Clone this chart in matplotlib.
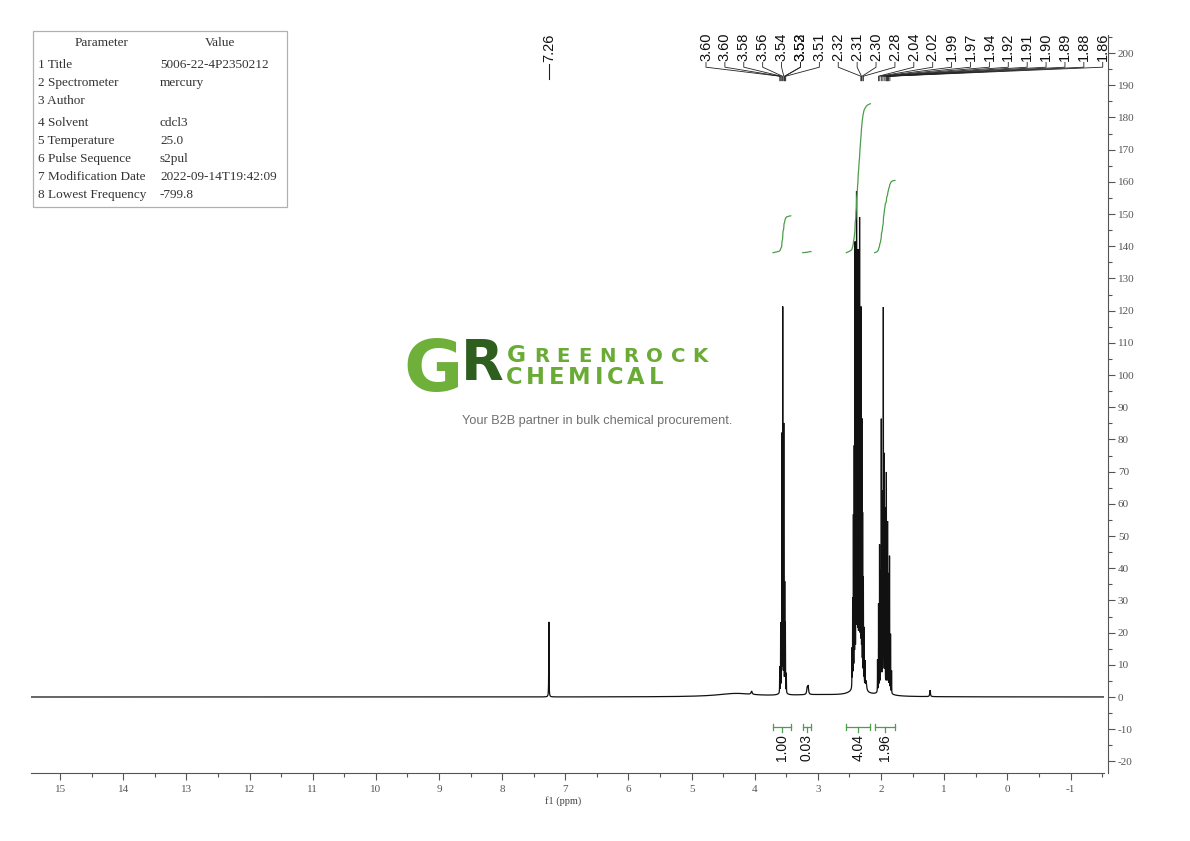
import numpy as np
import matplotlib
matplotlib.use("Agg")
import matplotlib.pyplot as plt
from matplotlib.ticker import MultipleLocator
from matplotlib.patches import Rectangle

plt.rcParams['axes.unicode_minus'] = False

# ------------------------------------------------------------------ data
# spectrum lines: chemical shift (ppm), height, half width (ppm)
peak_ppm = [7.26,
            3.605, 3.590, 3.572, 3.557, 3.540, 3.525, 3.515, 3.500,
            3.170, 3.155,
            4.050,
            2.460, 2.450, 2.438, 2.425, 2.412, 2.398, 2.388, 2.376, 2.364, 2.352, 2.340,
            2.328, 2.316, 2.304, 2.292, 2.280, 2.268, 2.255,
            2.238,
            2.056, 2.040, 2.024, 2.008, 1.996, 1.980, 1.964, 1.951, 1.937, 1.916, 1.897,
            1.882, 1.866, 1.850, 1.834,
            1.224]
peak_height = [23.3,
               8, 21, 79, 118, 82, 33, 21, 6,
               2.0, 2.5,
               1.0,
               12, 27, 52, 72, 135, 110, 148, 124, 130, 108, 141,
               100, 114, 80, 52, 33, 18, 8,
               3.0,
               10, 27, 45, 36, 83, 60, 117, 71, 55, 67, 52,
               36, 42, 18, 7,
               2.0]
peak_hwhm = [0.0025,
             0.0015, 0.0015, 0.0015, 0.0015, 0.0015, 0.0015, 0.0015, 0.0015,
             0.008, 0.008,
             0.010,
             0.0015, 0.0015, 0.0015, 0.0015, 0.0015, 0.0015, 0.0015, 0.0015, 0.0015, 0.0015, 0.0015,
             0.0015, 0.0015, 0.0015, 0.0015, 0.0015, 0.0015, 0.0015,
             0.010,
             0.0015, 0.0015, 0.0015, 0.0015, 0.0015, 0.0015, 0.0015, 0.0015, 0.0015, 0.0015, 0.0015,
             0.0015, 0.0015, 0.0015, 0.0015,
             0.006]
# broad baseline humps: centre, height, half width
hump_ppm = [4.30, 3.00, 2.36, 1.95, 3.555]
hump_height = [1.0, 0.6, 3.2, 1.8, 1.2]
hump_hwhm = [0.35, 0.60, 0.10, 0.08, 0.04]

# peak labels along the top
peak_labels = ["3.60", "3.60", "3.58", "3.56", "3.54", "3.53", "3.52", "3.51",
               "2.32", "2.31", "2.30", "2.28",
               "2.04", "2.02", "1.99", "1.97", "1.94", "1.92", "1.91", "1.90", "1.89", "1.88", "1.86"]
solvent_label = "7.26"

# integrals
integral_regions = [(3.71, 3.43), (3.24, 3.11), (2.55, 2.17), (2.10, 1.78)]
integral_values = [1.00, 0.03, 4.04, 1.96]

# parameter table
param_names = ["1 Title", "2 Spectrometer", "3 Author", "4 Solvent", "5 Temperature",
               "6 Pulse Sequence", "7 Modification Date", "8 Lowest Frequency"]
param_values = ["5006-22-4P2350212", "mercury", "", "cdcl3", "25.0",
                "s2pul", "2022-09-14T19:42:09", "-799.8"]

x_ticks = list(range(-1, 16))
y_ticks = list(range(-20, 201, 10))

# ------------------------------------------------------------------ figure
W, H = 1190, 841
fig = plt.figure(figsize=(W / 100, H / 100), dpi=100)
fig.patch.set_facecolor("white")


def fx(px):
    return px / W


def fy(py):
    return 1 - py / H


ax = fig.add_axes([fx(31), fy(773), (1104 - 31) / W, (773 - 35) / H])
XMAX, XMIN = 15.46, -1.53
YMIN, YMAX = -23.6, 205.6
ax.set_xlim(XMAX, XMIN)
ax.set_ylim(YMIN, YMAX)

x = np.linspace(XMAX, XMIN, 120000)
y = np.zeros_like(x)
for p, h, w in zip(peak_ppm, peak_height, peak_hwhm):
    y += h / (1 + ((x - p) / w) ** 2)
for p, h, w in zip(hump_ppm, hump_height, hump_hwhm):
    y += h / (1 + ((x - p) / w) ** 2)

ax.plot(x, y, color="#111111", lw=0.9, solid_joinstyle="miter")

# integrals
green = "#4c9e4c"
INT_BASE = 138.0
INT_SCALE = 11.45
for (a, b), v in zip(integral_regions, integral_values):
    m = (x <= a) & (x >= b)
    s = np.cumsum(y[m])
    s = s / s[-1]
    ax.plot(x[m], INT_BASE + v * INT_SCALE * s, color=green, lw=0.9)
    # bracket below baseline
    yb = -9.3
    ax.plot([a, b], [yb, yb], color=green, lw=0.9)
    ax.plot([a, a], [yb - 1.0, yb + 1.0], color=green, lw=0.9)
    ax.plot([b, b], [yb - 1.0, yb + 1.0], color=green, lw=0.9)
    c = (a + b) / 2
    ax.plot([c, c], [yb, yb - 1.6], color=green, lw=0.9)
    ax.text(c, yb - 2.2, f"{v:.2f}", rotation=90, ha="center", va="top",
            fontsize=10, family="Liberation Sans", color="#111111")

# peak labels
slot_first, slot_last = 4.772, -1.51
nslots = len(peak_labels) - 1
slots = np.linspace(slot_first, slot_last, nslots)
slot_idx = list(range(len(peak_labels)))
slot_idx = [i if i <= 5 else i - 1 for i in slot_idx]
Y_TXT, Y_A, Y_B, Y_C = 197.4, 195.6, 192.8, 191.4
for lab, si in zip(peak_labels, slot_idx):
    lx = slots[si]
    px = float(lab)
    ax.text(lx, Y_TXT, lab, rotation=90, ha="center", va="bottom", fontsize=10.5,
            family="Liberation Sans", color="#111111", clip_on=False)
    ax.plot([lx, lx, px, px], [Y_TXT - 0.3, Y_A, Y_B, Y_C], color="#222222",
            lw=0.6, clip_on=False)

sv = float(solvent_label)
ax.text(sv, 197.2, solvent_label, rotation=90, ha="center", va="bottom", fontsize=10.5,
        family="Liberation Sans", color="#111111", clip_on=False)
ax.plot([sv, sv], [196.6, 192.0], color="#222222", lw=0.8, clip_on=False)

# axes styling
for s in ["top", "left"]:
    ax.spines[s].set_visible(False)
ax.spines["right"].set_position(("outward", 3))
ax.spines["right"].set_color("#555555")
ax.spines["bottom"].set_color("#555555")
ax.yaxis.tick_right()
ax.set_xticks(x_ticks)
ax.set_xticklabels([str(t) for t in x_ticks])
ax.xaxis.set_minor_locator(MultipleLocator(0.5))
ax.set_yticks(y_ticks)
ax.set_yticklabels([str(t) for t in y_ticks])
ax.yaxis.set_minor_locator(MultipleLocator(5))
ax.tick_params(axis="both", which="major", length=5, width=0.8, color="#555555",
               labelcolor="#555555", labelsize=8)
ax.tick_params(axis="both", which="minor", length=3, width=0.8, color="#555555")
ax.tick_params(axis="x", pad=4)
ax.tick_params(axis="y", pad=2)
for lbl in ax.get_xticklabels() + ax.get_yticklabels():
    lbl.set_family("Liberation Serif")
ax.set_xlabel("f1 (ppm)", fontsize=7.5, family="Liberation Serif", color="#444444", labelpad=1)
ax.xaxis.set_label_coords((563 - 31) / (1104 - 31), -0.031)

# parameter table
fig.patches.append(Rectangle((fx(33), fy(207)), (287 - 33) / W, (207 - 31) / H,
                             transform=fig.transFigure, fill=False,
                             edgecolor="#b0b0b0", lw=0.9))
tkw = dict(fontsize=9.5, family="Liberation Serif", color="#333333", va="center")
fig.text(fx(102), fy(43), "Parameter", ha="center", **tkw)
fig.text(fx(220), fy(43), "Value", ha="center", **tkw)
row_y = [65, 83, 101, 123, 141, 159, 177, 195]
for ry, n, v in zip(row_y, param_names, param_values):
    fig.text(fx(38), fy(ry), n, ha="left", **tkw)
    fig.text(fx(160), fy(ry), v, ha="left", **tkw)

# watermark
fig.text(fx(433), fy(371), "G", fontsize=52, fontweight="bold", color="#6fb03a",
         family="DejaVu Sans", ha="center", va="center")
fig.text(fx(482), fy(364), "R", fontsize=40, fontweight="bold", color="#2f5f1f",
         family="DejaVu Sans", ha="center", va="center")

renderer = fig.canvas.get_renderer()


def spaced(text, sizes, x0, x1, baseline, color):
    objs = []
    widths = []
    for ch, sz in zip(text, sizes):
        t = fig.text(0, fy(baseline), ch, fontsize=sz, fontweight="bold", color=color,
                     family="DejaVu Sans", ha="left", va="baseline")
        bb = t.get_window_extent(renderer=renderer)
        objs.append(t)
        widths.append(bb.width)
    gap = ((x1 - x0) - sum(widths)) / (len(text) - 1)
    cur = x0
    for t, w in zip(objs, widths):
        t.set_x(fx(cur))
        cur += w + gap


spaced("GREENROCK", [16.8] + [14.2] * 8, 507, 708, 362, "#6aab36")
spaced("CHEMICAL", [16.3] * 8, 506, 663, 384, "#6aab36")
fig.text(fx(597), fy(421), "Your B2B partner in bulk chemical procurement.",
         fontsize=9.2, color="#707070", family="Liberation Sans", ha="center", va="center")

fig.savefig("out.png", dpi=100)
